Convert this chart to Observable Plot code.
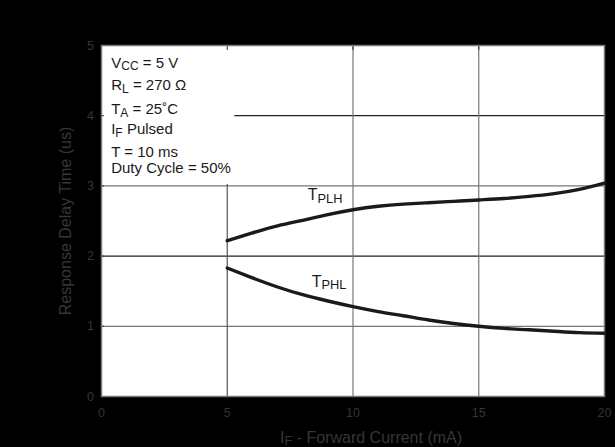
<!DOCTYPE html>
<html>
<head>
<meta charset="utf-8">
<script src="https://cdn.jsdelivr.net/npm/d3@7"></script>
<script src="https://cdn.jsdelivr.net/npm/@observablehq/plot@0.6"></script>
<style>
  html, body { margin: 0; padding: 0; background: #000; }
</style>
</head>
<body>
<div id="chart"></div>
<script>
// Forward current (mA) and response delay times (us)
const current = [5, 6, 7, 8, 9, 10, 11, 12, 13, 14, 15, 16, 17, 18, 19, 20];
const tPLH = [2.22, 2.33, 2.43, 2.51, 2.59, 2.66, 2.71, 2.74, 2.76, 2.78, 2.80, 2.82, 2.85, 2.89, 2.95, 3.04];
const tPHL = [1.83, 1.69, 1.56, 1.45, 1.36, 1.28, 1.21, 1.15, 1.09, 1.04, 1.00, 0.97, 0.95, 0.93, 0.91, 0.90];

const xTicks = [0, 5, 10, 15, 20];
const yTicks = [0, 1, 2, 3, 4, 5];
const xGrid = [5, 10, 15];
const yGrid = [1, 2, 3, 4];

// Test conditions ("_{...}" marks a subscript)
const conditions = ["V_{CC} = 5 V", "R_{L} = 270 Ω", "T_{A} = 25˚C", "I_{F} Pulsed", "T = 10 ms", "Duty Cycle = 50%"];
// Area of the panel that holds the test conditions (data units)
const noteBox = [{x1: 0, x2: 5.3, y1: 3.02, y2: 5}];

const seriesNames = ["T_{PLH}", "T_{PHL}"];
const seriesValues = [tPLH, tPHL];
const labelIndex = 3; // curve labels sit above the point at 8 mA

const rows = seriesNames.flatMap((name, s) =>
  current.map((c, i) => ({series: name, current: c, delay: seriesValues[s][i]})));
const byName = (name) => rows.filter((d) => d.series === name);

const lineOffsets = [17.3, 40, 63.6, 84, 106.3, 123];
const gridColor = (v) => (v === 2 || v === 4 ? "#222" : "#777");
const vGridColor = (v) => (v === 5 ? "#555" : "#777");

const plot = Plot.plot({
  width: 615,
  height: 447,
  marginLeft: 101,
  marginRight: 11,
  marginTop: 45,
  marginBottom: 51,
  style: {
    background: "#000",
    color: "#363636",
    fontFamily: "'Liberation Sans', Arial, Helvetica, sans-serif",
    fontSize: "12.5px"
  },
  x: {domain: [0, 20]},
  y: {domain: [0, 5]},
  marks: [
    Plot.frame({fill: "white", stroke: null}),
    Plot.ruleY(yGrid, {y: (d) => d, stroke: gridColor, strokeWidth: 1.2}),
    Plot.ruleX(xGrid, {x: (d) => d, stroke: vGridColor, strokeWidth: 1.2}),
    Plot.rect(noteBox, {x1: "x1", x2: "x2", y1: "y1", y2: "y2", fill: "white"}),
    Plot.axisX({anchor: "top", ticks: xGrid, tickSize: -4, tickFormat: () => "", label: null, stroke: "#333"}),
    Plot.axisY({anchor: "left", ticks: yGrid, tickSize: -3, tickFormat: () => "", label: null, stroke: "#333"}),
    Plot.frame({stroke: "#777", strokeWidth: 1.5}),
    ...seriesNames.map((name) =>
      Plot.line(byName(name), {x: "current", y: "delay", curve: "natural", stroke: "#1a1a1a", strokeWidth: 3.4})),
    Plot.text([byName(seriesNames[0])[labelIndex]], {
      x: "current", y: "delay", text: "series", textAnchor: "start",
      dx: 5, dy: -25, fontSize: 16, fill: "#1a1a1a"
    }),
    Plot.text([byName(seriesNames[1])[labelIndex]], {
      x: "current", y: "delay", text: "series", textAnchor: "start",
      dx: 9, dy: -13, fontSize: 16, fill: "#1a1a1a"
    }),
    ...conditions.map((line, i) =>
      Plot.text([line], {
        frameAnchor: "top-left", textAnchor: "start", lineAnchor: "middle",
        dx: 9.7, dy: lineOffsets[i], fontSize: 15, fill: "#1a1a1a"
      })),
    Plot.axisX({anchor: "bottom", ticks: xTicks, tickSize: 0, tickPadding: 11.5, tickFormat: (d) => `${d}`, label: null}),
    Plot.axisY({anchor: "left", ticks: yTicks, tickSize: 0, tickPadding: 7.5, tickFormat: (d) => `${d}`, label: null}),
    Plot.text(["I_{F} - Forward Current (mA)"], {
      frameAnchor: "bottom", textAnchor: "middle", lineAnchor: "middle", dx: 18, dy: 41, fontSize: 16, fill: "#363636"
    }),
    Plot.text(["Response Delay Time (us)"], {
      frameAnchor: "left", textAnchor: "middle", lineAnchor: "middle", rotate: -90, dx: -36, fontSize: 16, fill: "#363636"
    })
  ]
});

// Turn "_{...}" runs into subscript tspans
const shift = 2.6;
d3.select(plot).selectAll("text").each(function () {
  const s = this.textContent;
  if (!s.includes("_{")) return;
  const el = d3.select(this);
  el.text(null);
  let lowered = false;
  s.split(/(_\{[^}]*\})/).forEach((part) => {
    if (!part) return;
    const m = part.match(/^_\{(.*)\}$/);
    if (m) {
      el.append("tspan").attr("dy", (lowered ? 0 : shift) + "px").style("font-size", "0.8em").text(m[1]);
      lowered = true;
    } else {
      const t = el.append("tspan").text(part);
      if (lowered) { t.attr("dy", -shift + "px"); lowered = false; }
    }
  });
});

document.getElementById("chart").appendChild(plot);
</script>
</body>
</html>
